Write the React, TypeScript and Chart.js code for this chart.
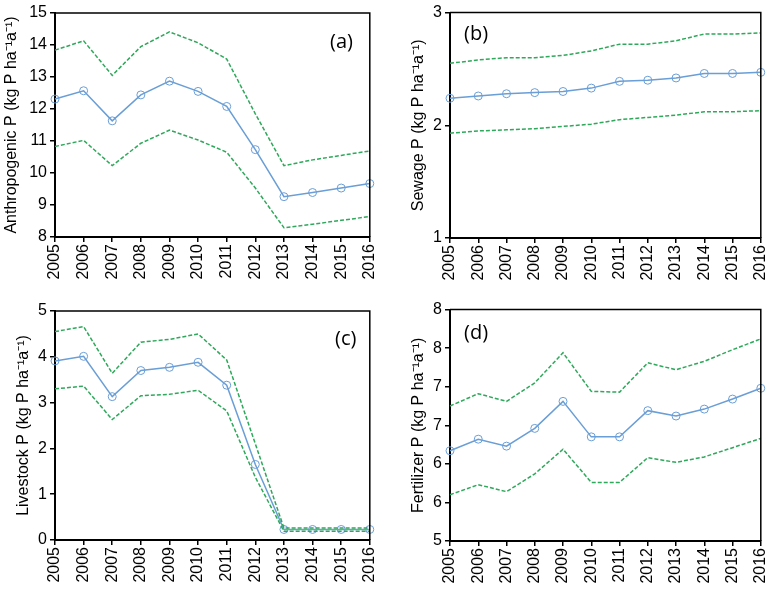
import React, { useEffect, useRef } from "react";
import { Chart, registerables } from "chart.js";

Chart.register(...registerables);

const years = ["2005", "2006", "2007", "2008", "2009", "2010", "2011", "2012", "2013", "2014", "2015", "2016"];

const anthroMean = [12.31, 12.57, 11.63, 12.44, 12.87, 12.55, 12.08, 10.73, 9.26, 9.39, 9.53, 9.67];
const anthroUpper = [13.84, 14.13, 13.05, 13.95, 14.41, 14.07, 13.56, 11.85, 10.23, 10.41, 10.55, 10.69];
const anthroLower = [10.83, 11.02, 10.23, 10.93, 11.34, 11.03, 10.65, 9.53, 8.29, 8.4, 8.52, 8.64];

const sewageMean = [2.24, 2.26, 2.28, 2.29, 2.3, 2.33, 2.39, 2.4, 2.42, 2.46, 2.46, 2.47];
const sewageUpper = [2.55, 2.58, 2.6, 2.6, 2.62, 2.66, 2.72, 2.72, 2.75, 2.81, 2.81, 2.82];
const sewageLower = [1.93, 1.95, 1.96, 1.97, 1.99, 2.01, 2.05, 2.07, 2.09, 2.12, 2.12, 2.13];

const livestockMean = [3.91, 4.01, 3.13, 3.7, 3.77, 3.88, 3.38, 1.65, 0.23, 0.23, 0.23, 0.23];
const livestockUpper = [4.55, 4.66, 3.64, 4.32, 4.38, 4.5, 3.93, 2.1, 0.26, 0.26, 0.26, 0.26];
const livestockLower = [3.3, 3.36, 2.63, 3.15, 3.18, 3.27, 2.82, 1.37, 0.19, 0.19, 0.19, 0.19];

const fertMean = [6.17, 6.32, 6.23, 6.46, 6.81, 6.35, 6.35, 6.69, 6.62, 6.71, 6.84, 6.98];
const fertUpper = [6.75, 6.91, 6.81, 7.05, 7.44, 6.94, 6.93, 7.31, 7.22, 7.33, 7.48, 7.62];
const fertLower = [5.6, 5.73, 5.64, 5.87, 6.19, 5.76, 5.76, 6.08, 6.02, 6.09, 6.21, 6.33];

const anthroTicks = ["8", "9", "10", "11", "12", "13", "14", "15"];
const sewageTicks = ["1", "2", "3"];
const livestockTicks = ["0", "1", "2", "3", "4", "5"];
const fertTicks = ["5", "6", "6", "7", "7", "8", "8"];

const FONT = "'Liberation Sans', Arial, Helvetica, sans-serif";
const BLUE = "#6a9ed6";
const GREEN = "#2ea85a";

type PanelCfg = {
  key: string;
  title: string;
  label: string;
  mean: number[];
  upper: number[];
  lower: number[];
  min: number;
  max: number;
  step: number;
  ticks: string[];
  left: number;
  top: number;
  plotLeft: number;
  plotTop: number;
  plotRight: number;
  plotBottom: number;
  padLeft: number;
  labelX: number;
  labelY: number;
};

const W = 391;
const H = 297;

const panels: PanelCfg[] = [
  {
    key: "a", title: "Anthropogenic P (kg P ha\u207B\u00B9a\u207B\u00B9)", label: "(a)",
    mean: anthroMean, upper: anthroUpper, lower: anthroLower,
    min: 8, max: 15, step: 1, ticks: anthroTicks,
    left: 0, top: 0, plotLeft: 55, plotTop: 13, plotRight: 370, plotBottom: 237, padLeft: 0,
    labelX: 330, labelY: 42,
  },
  {
    key: "b", title: "Sewage P (kg P ha\u207B\u00B9a\u207B\u00B9)", label: "(b)",
    mean: sewageMean, upper: sewageUpper, lower: sewageLower,
    min: 1, max: 3, step: 1, ticks: sewageTicks,
    left: 391, top: 0, plotLeft: 59, plotTop: 11, plotRight: 378, plotBottom: 238, padLeft: 16,
    labelX: 73, labelY: 34,
  },
  {
    key: "c", title: "Livestock P (kg P ha\u207B\u00B9a\u207B\u00B9)", label: "(c)",
    mean: livestockMean, upper: livestockUpper, lower: livestockLower,
    min: 0, max: 5, step: 1, ticks: livestockTicks,
    left: 0, top: 297, plotLeft: 55, plotTop: 14, plotRight: 370, plotBottom: 243, padLeft: 12,
    labelX: 335, labelY: 42,
  },
  {
    key: "d", title: "Fertilizer P (kg P ha\u207B\u00B9a\u207B\u00B9)", label: "(d)",
    mean: fertMean, upper: fertUpper, lower: fertLower,
    min: 5, max: 8, step: 0.5, ticks: fertTicks,
    left: 391, top: 297, plotLeft: 59, plotTop: 12, plotRight: 378, plotBottom: 244, padLeft: 16,
    labelX: 73, labelY: 36,
  },
];

function Panel({ cfg }: { cfg: PanelCfg }) {
  const ref = useRef<HTMLCanvasElement | null>(null);
  useEffect(() => {
    if (!ref.current) return;
    const boxPlugin = {
      id: "box" + cfg.key,
      afterDraw(chart: any) {
        const { ctx, chartArea } = chart;
        ctx.save();
        ctx.strokeStyle = "#000";
        ctx.lineWidth = 1.5;
        ctx.beginPath();
        ctx.moveTo(chartArea.left, chartArea.top);
        ctx.lineTo(chartArea.right, chartArea.top);
        ctx.lineTo(chartArea.right, chartArea.bottom);
        ctx.stroke();
        ctx.fillStyle = "#000";
        ctx.font = "20px 'Open Sans', 'Noto Sans', sans-serif";
        ctx.textAlign = "left";
        ctx.textBaseline = "middle";
        ctx.fillText(cfg.label, cfg.labelX, cfg.labelY);
        ctx.restore();
      },
    };
    const chart = new Chart(ref.current, {
      type: "line",
      data: {
        labels: years,
        datasets: [
          {
            data: cfg.mean,
            borderColor: BLUE,
            borderWidth: 1.5,
            pointRadius: 4,
            pointBorderWidth: 1,
            pointBorderColor: BLUE,
            pointBackgroundColor: "rgba(0,0,0,0)",
            order: 2,
            tension: 0,
          },
          {
            data: cfg.upper,
            borderColor: GREEN,
            borderWidth: 1.5,
            borderDash: [4, 2],
            pointRadius: 0,
            order: 1,
            tension: 0,
          },
          {
            data: cfg.lower,
            borderColor: GREEN,
            borderWidth: 1.5,
            borderDash: [4, 2],
            pointRadius: 0,
            order: 1,
            tension: 0,
          },
        ],
      },
      options: {
        animation: false,
        responsive: false,
        devicePixelRatio: 1,
        layout: {
          padding: {
            left: cfg.padLeft,
            top: cfg.plotTop,
            right: W - cfg.plotRight,
            bottom: 0,
          },
        },
        plugins: {
          legend: { display: false },
          tooltip: { enabled: false },
          title: { display: false },
        },
        scales: {
          x: {
            type: "category",
            offset: false,
            afterFit: (s: any) => {
              s.height = H - cfg.plotBottom;
            },
            grid: {
              drawOnChartArea: false,
              drawTicks: true,
              tickLength: 5,
              color: "#000",
              lineWidth: 1.5,
            },
            border: { color: "#000", width: 2 },
            ticks: {
              color: "#000",
              minRotation: 90,
              maxRotation: 90,
              autoSkip: false,
              padding: 2,
              font: { family: FONT, size: 16 },
            },
          },
          y: {
            min: cfg.min,
            max: cfg.max,
            afterFit: (s: any) => {
              s.width = cfg.plotLeft - cfg.padLeft;
            },
            grid: {
              drawOnChartArea: false,
              drawTicks: true,
              tickLength: 5,
              color: "#000",
              lineWidth: 1.5,
            },
            border: { color: "#000", width: 2 },
            ticks: {
              stepSize: cfg.step,
              color: "#000",
              padding: 3,
              font: { family: FONT, size: 16 },
              callback: (_v: any, i: number) => cfg.ticks[i],
            },
            title: {
              display: true,
              text: cfg.title,
              color: "#000",
              padding: { top: 2, bottom: 0 },
              font: { family: FONT, size: 16 },
            },
          },
        },
      },
      plugins: [boxPlugin],
    } as any);
    return () => chart.destroy();
  }, [cfg]);
  return (
    <div style={{ position: "absolute", left: cfg.left, top: cfg.top, width: W, height: H }}>
      <canvas ref={ref} width={W} height={H} style={{ width: W, height: H, display: "block" }} />
    </div>
  );
}

export default function App() {
  return (
    <div style={{ position: "absolute", left: 0, top: 0, width: 782, height: 594, background: "#fff" }}>
      {panels.map((p) => (
        <Panel key={p.key} cfg={p} />
      ))}
    </div>
  );
}
